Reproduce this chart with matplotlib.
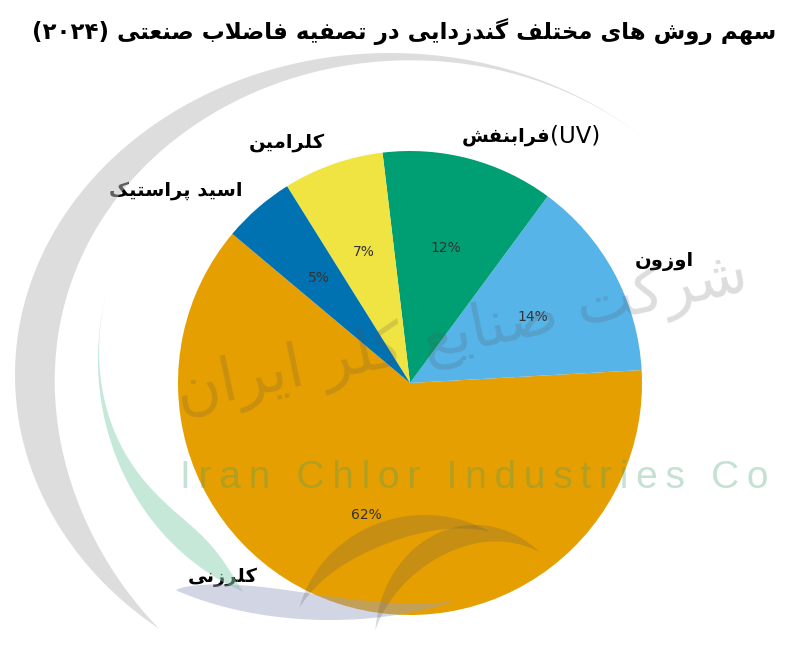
import matplotlib
matplotlib.use('Agg')
import matplotlib.pyplot as plt
import numpy as np

# data
labels = ['کلرزنی', 'اوزون', 'فرابنفش', 'کلرامین', 'اسید پراستیک']
label_suffix = ['', '', '(UV)', '', '']
shares = [62, 14, 12, 7, 5]
colors = ['#E69F00', '#56B4E9', '#009E73', '#F0E442', '#0072B2']
title_fa = 'سهم روش های مختلف گندزدایی در تصفیه فاضلاب صنعتی'
title_year = '(۲۰۲۴)'

# minimal persian shaping (isolated, final, initial, medial)
FORMS = {
    'ا': ('\uFE8D', '\uFE8E', None, None),
    'ب': ('\uFE8F', '\uFE90', '\uFE91', '\uFE92'),
    'پ': ('\uFB56', '\uFB57', '\uFB58', '\uFB59'),
    'ت': ('\uFE95', '\uFE96', '\uFE97', '\uFE98'),
    'خ': ('\uFEA5', '\uFEA6', '\uFEA7', '\uFEA8'),
    'د': ('\uFEA9', '\uFEAA', None, None),
    'ر': ('\uFEAD', '\uFEAE', None, None),
    'ز': ('\uFEAF', '\uFEB0', None, None),
    'س': ('\uFEB1', '\uFEB2', '\uFEB3', '\uFEB4'),
    'ش': ('\uFEB5', '\uFEB6', '\uFEB7', '\uFEB8'),
    'ص': ('\uFEB9', '\uFEBA', '\uFEBB', '\uFEBC'),
    'ض': ('\uFEBD', '\uFEBE', '\uFEBF', '\uFEC0'),
    'ع': ('\uFEC9', '\uFECA', '\uFECB', '\uFECC'),
    'ف': ('\uFED1', '\uFED2', '\uFED3', '\uFED4'),
    'ک': ('\uFB8E', '\uFB8F', '\uFB90', '\uFB91'),
    'گ': ('\uFB92', '\uFB93', '\uFB94', '\uFB95'),
    'ل': ('\uFEDD', '\uFEDE', '\uFEDF', '\uFEE0'),
    'م': ('\uFEE1', '\uFEE2', '\uFEE3', '\uFEE4'),
    'ن': ('\uFEE5', '\uFEE6', '\uFEE7', '\uFEE8'),
    'ه': ('\uFEE9', '\uFEEA', '\uFEEB', '\uFEEC'),
    'و': ('\uFEED', '\uFEEE', None, None),
    'ی': ('\uFBFC', '\uFBFD', '\uFBFE', '\uFBFF'),
}


def joins_next(c):
    return c in FORMS and FORMS[c][2] is not None


def shape(word):
    out = []
    i = 0
    n = len(word)
    while i < n:
        c = word[i]
        if c not in FORMS:
            out.append(c)
            i += 1
            continue
        link_prev = i > 0 and joins_next(word[i - 1])
        if c == 'ل' and i + 1 < n and word[i + 1] == 'ا':
            out.append('\uFEFC' if link_prev else '\uFEFB')
            i += 2
            continue
        link_next = joins_next(c) and i + 1 < n and word[i + 1] in FORMS
        iso, fin, ini, med = FORMS[c]
        if link_prev and link_next:
            out.append(med)
        elif link_prev:
            out.append(fin)
        elif link_next:
            out.append(ini)
        else:
            out.append(iso)
        i += 1
    return ''.join(out)


def fa(text):
    return shape(text)[::-1]


def crescent(ax, cx, cy, a, b, t0, t1, w, color, alpha, peak=0.5):
    t = np.radians(np.linspace(t0, t1, 300))
    s = np.linspace(0, 1, 300)
    k = np.log(0.5) / np.log(peak)
    th = w * np.sin(np.pi * s ** k)
    xo = cx + a * np.cos(t)
    yo = cy - b * np.sin(t)
    xi = cx + (a - th) * np.cos(t)
    yi = cy - (b - th) * np.sin(t)
    ax.fill(np.r_[xo, xi[::-1]], np.r_[yo, yi[::-1]], color=color,
            alpha=alpha, lw=0)


fig = plt.figure(figsize=(8, 6.66), dpi=100)

ax = fig.add_axes([178 / 800, (666 - 615) / 666, 464 / 800, 464 / 666])
wedges, texts, autotexts = ax.pie(
    shares, labels=[fa(l) for l in labels],
    colors=colors, startangle=140, autopct='%1.0f%%',
    textprops={'fontsize': 14, 'fontweight': 'bold', 'family': 'DejaVu Sans'})
for t in autotexts:
    t.set_fontsize(10)
    t.set_fontweight('normal')
    t.set_color('#333333')
# chlorination label sits lower-left in the original
ang = np.radians(232)
texts[0].set_position((1.065 * np.cos(ang), 1.065 * np.sin(ang)))
texts[2].set_position((texts[2].get_position()[0] - 0.06,
                       texts[2].get_position()[1]))
for t, suf in zip(texts, label_suffix):
    if suf:
        ax.annotate(suf, xy=(1, 0.5), xycoords=t, ha='left', va='center',
                    fontsize=16.5, family='DejaVu Sans')
ax.set_xlim(-1, 1)
ax.set_ylim(-1, 1)
ax.set_aspect('equal')

fig.text(0.505, 0.952, title_year + ' ' + fa(title_fa), ha='center',
         va='center', fontsize=16.5, fontweight='bold', family='DejaVu Sans')

# watermark logo
wm = fig.add_axes([0, 0, 1, 1], zorder=5)
wm.set_xlim(0, 800)
wm.set_ylim(666, 0)
wm.axis('off')
crescent(wm, 390, 375, 375, 322, 45, 232, 40, '#bdbdbd', 0.5, peak=0.7)
crescent(wm, 330, 360, 232, 250, 156, 248, 26, '#8fd3b3', 0.5, peak=0.8)
crescent(wm, 330, 480, 250, 140, 232, 300, 28, '#9aa3c4', 0.45, peak=0.35)
crescent(wm, 425, 640, 130, 125, 165, 60, 22, '#555555', 0.22, peak=0.5)
crescent(wm, 475, 640, 100, 115, 175, 50, 22, '#555555', 0.22, peak=0.5)
wm.text(462, 335, fa('شرکت صنایع کلر ایران'), ha='center', va='center',
        rotation=12, fontsize=44, color='#555555', alpha=0.2,
        family='DejaVu Sans')
wm.text(474, 478, '\u2009'.join('Iran Chlor Industries Co'), ha='center',
        va='center', fontsize=28, color='#3c9c70', alpha=0.3,
        family=['Liberation Sans', 'DejaVu Sans'])

plt.savefig('out.png', dpi=100)
